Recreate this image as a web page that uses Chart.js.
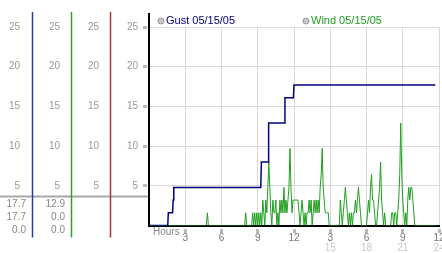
<!DOCTYPE html>
<html>
<head>
<meta charset="utf-8">
<script src="https://cdn.jsdelivr.net/npm/chart.js@4/dist/chart.umd.min.js"></script>
<style>
  body { margin: 0; background: #fff; }
  canvas { display: block; }
</style>
</head>
<body>
<canvas id="grafica" width="442" height="253"></canvas>
<script>
// series labels (legend)
var seriesLabels = ['Gust 05/15/05', 'Wind 05/15/05'];

// gust: step changes (hour, km/h)
var gustHours  = [0, 1.55, 1.6, 1.95, 2.0, 2.05, 9.25, 9.3, 9.85, 9.9, 11.2, 11.25, 11.95, 12.0, 23.7];
var gustValues = [0, 0,    1.6, 1.6,  3.2, 4.8,  4.8,  8.0, 8.0,  12.9, 12.9, 16.1, 16.1,  17.7, 17.7];

// wind: one row per hour, 5 minute samples
var windRows = [
  [0,0,0,0,0,0,0,0,0,0,0,0],
  [0,0,0,0,0,0,0,0,0,0,0,0],
  [0,0,0,0,0,0,0,0,0,0,0,0],
  [0,0,0,0,0,0,0,0,0,0,0,0],
  [0,0,0,0,0,0,0,0,0,0,1.6,0],
  [0,0,0,0,0,0,0,0,0,0,0,0],
  [0,0,0,0,0,0,0,0,0,0,0,0],
  [0,0,0,0,0,0,0,0,0,0,0,0],
  [1.6,0,0,0,0,0,0,1.6,0,1.6,0,1.6],
  [0,1.6,0,1.6,0,3.2,1.6,0,3.2,1.6,4.8,8.0],
  [4.8,1.6,0,3.2,1.6,1.6,3.2,0,1.6,0,3.2,1.6],
  [3.2,1.6,4.8,1.6,3.2,1.6,3.2,4.8,9.7,4.8,1.6,3.2],
  [3.2,3.2,3.2,3.2,3.2,1.6,0,1.6,3.2,1.6,0,1.6],
  [0,1.6,1.6,3.2,1.6,3.2,0,1.6,3.2,1.6,3.2,1.6],
  [3.2,1.6,4.8,6.4,9.7,4.8,3.2,1.6,1.6,1.6,1.6,0],
  [0,0,0,0,0,0,0,0,0,0,3.2,1.6],
  [0,1.6,3.2,4.8,3.2,1.6,0,1.6,0,1.6,0,1.6],
  [1.6,3.2,1.6,3.2,4.8,3.2,1.6,0,0,0,0,0],
  [0,1.6,3.2,1.6,4.8,6.4,3.2,3.2,1.6,0,0,1.6],
  [3.2,4.8,8.0,3.2,1.6,0,1.6,0,0,0,0,0],
  [0,1.6,1.6,0,1.6,1.6,0,1.6,3.2,6.4,12.9,6.4],
  [3.2,1.6,0,1.6,0,3.2,4.8,3.2,4.8,4.8,3.2,1.6],
  [0,0,0,0,0,0,0,0,0,0,0,0],
  [0,0,0,0,0,0,0,0,0,0]
];

// readouts under the side panels
var gustReadout = [17.7, 17.7, 0.0];
var windReadout = [12.9, 0.0, 0.0];

var yTicks = [5, 10, 15, 20, 25];
var hourTicks = [3, 6, 9, 12, 3, 6, 9, 12];   // first row under the axis
var hourTicks2 = [15, 18, 21, 24];            // second row (afternoon)

var FONT = "'Liberation Sans', Arial, sans-serif";
var NAVY = '#000080';
var GREEN = '#1f9f1f';

var gustPoints = gustHours.map(function (h, i) { return { x: h, y: gustValues[i] }; });
var windPoints = [];
windRows.forEach(function (row, h) {
  row.forEach(function (v, k) { windPoints.push({ x: h + k / 12, y: v }); });
});

function panelAxis(weight, width, pad) {
  return {
    position: 'left', weight: weight, min: 0, max: 25,
    border: { display: false },
    grid: { display: true, drawOnChartArea: false, drawTicks: false },
    ticks: {
      stepSize: 5, padding: pad, color: '#999', font: { family: FONT, size: 10 },
      callback: function (v) { return yTicks.indexOf(v) >= 0 ? String(v) : ''; }
    },
    afterFit: function (s) { s.width = width; }
  };
}

var clear = 'rgba(0,0,0,0)';

var decor = {
  id: 'decor',
  afterDraw: function (chart) {
    var ctx = chart.ctx, area = chart.chartArea, sc = chart.scales;
    ctx.save();

    // divider above readouts
    ctx.strokeStyle = '#a8a8a8';
    ctx.lineWidth = 2;
    ctx.beginPath();
    ctx.moveTo(0, area.bottom - 29);
    ctx.lineTo(sc.y.right, area.bottom - 29);
    ctx.stroke();

    // panel lines
    var panels = [[sc.yGust, '#22409a'], [sc.yWind, '#2ea02e'], [sc.yCalm, '#b03030']];
    ctx.lineWidth = 1.5;
    panels.forEach(function (p) {
      ctx.strokeStyle = p[1];
      ctx.beginPath();
      ctx.moveTo(p[0].right - 0.5, area.top - 15);
      ctx.lineTo(p[0].right - 0.5, area.bottom + 12);
      ctx.stroke();
    });
    ctx.strokeStyle = '#000';
    ctx.lineWidth = 2;
    ctx.beginPath();
    ctx.moveTo(area.left, area.top - 14);
    ctx.lineTo(area.left, area.bottom + 1);
    ctx.stroke();

    // readouts
    ctx.font = '10px ' + FONT;
    ctx.fillStyle = '#888';
    ctx.textAlign = 'right';
    ctx.textBaseline = 'middle';
    [[sc.yGust, gustReadout], [sc.yWind, windReadout]].forEach(function (p) {
      p[1].forEach(function (v, i) {
        ctx.fillText(v.toFixed(1), p[0].right - 7, area.bottom - 21 + i * 13);
      });
    });

    // axis caption
    ctx.textAlign = 'left';
    ctx.fillText('Hours', area.left + 4, area.bottom + 7);

    // legend
    ctx.font = '11px ' + FONT;
    var colors = [NAVY, GREEN];
    seriesLabels.forEach(function (t, i) {
      var cx = area.left + i * (area.right - area.left) / 2 + 12;
      var cy = area.top - 6;
      ctx.beginPath();
      ctx.arc(cx, cy, 3, 0, Math.PI * 2);
      ctx.fillStyle = '#c8c8c8';
      ctx.fill();
      ctx.strokeStyle = '#999';
      ctx.lineWidth = 1;
      ctx.stroke();
      ctx.fillStyle = colors[i];
      ctx.fillText(t, cx + 5, cy);
    });
    ctx.restore();
  }
};

new Chart(document.getElementById('grafica').getContext('2d'), {
  type: 'line',
  data: {
    datasets: [
      { label: seriesLabels[0], data: gustPoints, borderColor: NAVY, borderWidth: 1.5,
        pointRadius: 0, tension: 0, xAxisID: 'x', yAxisID: 'y' },
      { label: seriesLabels[1], data: windPoints, borderColor: GREEN, borderWidth: 1,
        pointRadius: 0, tension: 0, xAxisID: 'x', yAxisID: 'y' }
    ]
  },
  options: {
    responsive: false,
    animation: false,
    events: [],
    layout: { padding: { top: 27, right: 3, left: 0, bottom: 0 } },
    plugins: { legend: { display: false }, tooltip: { enabled: false } },
    scales: {
      x: {
        type: 'linear', position: 'bottom', weight: 0, min: 0, max: 24,
        border: { display: true, color: '#000', width: 2 },
        grid: {
          color: function (c) { return c.tick && c.tick.value === 0 ? clear : '#d9d9d9'; },
          tickColor: function (c) { return c.tick && c.tick.value === 0 ? clear : '#b8b8b8'; },
          tickLength: 8, tickWidth: 3, tickBorderDash: [0, 2, 4, 20]
        },
        ticks: {
          stepSize: 3, padding: 0, color: '#777', maxRotation: 0, autoSkip: false,
          font: { family: FONT, size: 10, lineHeight: 1 },
          callback: function (v) { return v > 0 ? String(hourTicks[v / 3 - 1]) : ''; }
        },
        afterFit: function (s) { s.height = 16; s.paddingLeft = 0; s.paddingRight = 0; }
      },
      x2: {
        type: 'linear', position: 'bottom', weight: 1, min: 0, max: 24,
        border: { display: false },
        grid: { display: false, drawTicks: false, tickLength: 0 },
        ticks: {
          stepSize: 3, padding: 2, color: '#c8c8c8', maxRotation: 0, autoSkip: false,
          font: { family: FONT, size: 10, lineHeight: 1 },
          callback: function (v) { return hourTicks2.indexOf(v) >= 0 ? String(v) : ''; }
        },
        afterFit: function (s) { s.height = 11.5; s.paddingLeft = 0; s.paddingRight = 0; }
      },
      yGust: panelAxis(4, 33, 13),
      yWind: panelAxis(3, 39, 12),
      yCalm: panelAxis(2, 39, 12),
      y: {
        position: 'left', weight: 1, min: 0, max: 25,
        border: { display: false },
        grid: {
          color: function (c) { return c.tick && c.tick.value === 0 ? clear : '#d9d9d9'; },
          tickColor: function (c) { return c.tick && c.tick.value === 0 ? clear : '#bbb'; },
          tickLength: 6, tickWidth: 3, tickBorderDash: [4, 20]
        },
        ticks: {
          stepSize: 5, padding: 5, color: '#999', font: { family: FONT, size: 10 },
          callback: function (v) { return yTicks.indexOf(v) >= 0 ? String(v) : ''; }
        },
        afterFit: function (s) { s.width = 38; }
      }
    }
  },
  plugins: [decor]
});
</script>
</body>
</html>
